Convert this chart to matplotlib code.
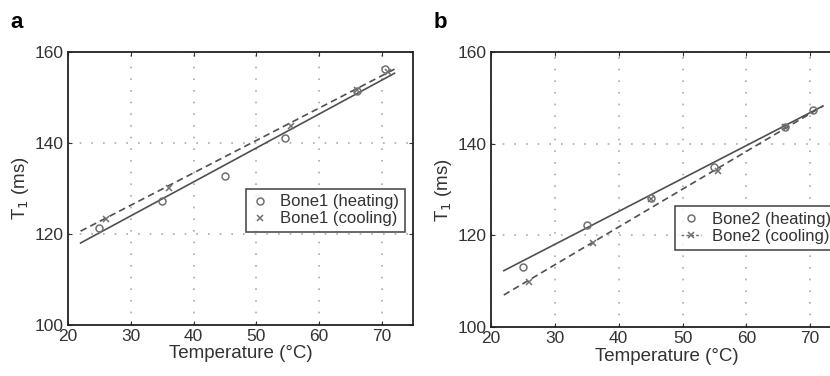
import matplotlib.pyplot as plt
import numpy as np

# =============================================================================
# Data
# =============================================================================

# Panel a: Bone1
A_HEAT_T = [25, 35, 45, 54.5, 66, 70.5]
A_HEAT_T1 = [121.3, 127.3, 132.8, 141.0, 151.4, 156.2]
A_COOL_T = [26, 36, 55.5, 66, 71]
A_COOL_T1 = [123.3, 130.1, 143.7, 151.6, 155.6]
A_HEAT_FIT_T = [22, 72]
A_HEAT_FIT_T1 = [118.0, 155.3]
A_COOL_FIT_T = [22, 72]
A_COOL_FIT_T1 = [120.6, 156.2]

# Panel b: Bone2
B_HEAT_T = [25, 35, 45, 55, 66, 70.5]
B_HEAT_T1 = [113.2, 122.3, 128.1, 135.0, 143.7, 147.3]
B_COOL_T = [26, 36, 45, 55.5, 66]
B_COOL_T1 = [109.9, 118.3, 127.9, 134.1, 143.6]
B_HEAT_FIT_T = [22, 72]
B_HEAT_FIT_T1 = [112.3, 148.2]
B_COOL_FIT_T = [22, 72]
B_COOL_FIT_T1 = [107.0, 148.2]

X_TICKS = [20, 30, 40, 50, 60, 70]
Y_TICKS = [100, 120, 140, 160]

LINE_COLOR = "#505050"
MARK_COLOR = "#707070"


def draw_panel(ax, heat, cool, heat_fit, cool_fit, name, cool_line_in_legend):
    ax.plot(heat_fit[0], heat_fit[1], color=LINE_COLOR, linewidth=1.2)
    ax.plot(cool_fit[0], cool_fit[1], color=LINE_COLOR, linewidth=1.2,
            linestyle=(0, (4, 2.5)))
    h1, = ax.plot(heat[0], heat[1], linestyle="none", marker="o",
                  markersize=5, markerfacecolor="none",
                  markeredgecolor=MARK_COLOR, markeredgewidth=1.1,
                  label=f"{name} (heating)")
    ax.plot(cool[0], cool[1], linestyle="none", marker="x",
            markersize=5, color=MARK_COLOR, markeredgewidth=1.1)
    if cool_line_in_legend:
        h2, = ax.plot([], [], linestyle=(0, (2, 1.5)), marker="x",
                      markersize=5, color=MARK_COLOR, linewidth=1.0,
                      markeredgewidth=1.1, label=f"{name} (cooling)")
    else:
        h2, = ax.plot([], [], linestyle="none", marker="x", markersize=5,
                      color=MARK_COLOR, markeredgewidth=1.1,
                      label=f"{name} (cooling)")
    return h1, h2


def style_axes(ax):
    ax.set_xlim(20, 75)
    ax.set_ylim(100, 160)
    ax.set_xticks(X_TICKS)
    ax.set_yticks(Y_TICKS)
    ax.tick_params(direction="in", length=3, labelsize=12.5, colors="#333333",
                   top=True, right=True, pad=3)
    ax.grid(True, color="#aaaaaa", linestyle=(0, (1, 6)), linewidth=1.2)
    for sp in ax.spines.values():
        sp.set_linewidth(1.3)
        sp.set_color("#222222")
    ax.set_xlabel("Temperature (°C)", fontsize=13.5, color="#333333", labelpad=1)
    ax.set_ylabel("T$_1$ (ms)", fontsize=13.5, color="#333333", labelpad=3)


def main():
    plt.rcParams.update({
        "font.family": "sans-serif",
        "font.sans-serif": ["Liberation Sans", "DejaVu Sans"],
    })

    fig = plt.figure(figsize=(8.3, 3.76), dpi=100)
    ax_a = fig.add_axes([0.082, 0.136, 0.416, 0.726])
    ax_b = fig.add_axes([0.5916, 0.130, 0.423, 0.732])

    ha, ca = draw_panel(ax_a, (A_HEAT_T, A_HEAT_T1), (A_COOL_T, A_COOL_T1),
                        (A_HEAT_FIT_T, A_HEAT_FIT_T1),
                        (A_COOL_FIT_T, A_COOL_FIT_T1), "Bone1", False)
    hb, cb = draw_panel(ax_b, (B_HEAT_T, B_HEAT_T1), (B_COOL_T, B_COOL_T1),
                        (B_HEAT_FIT_T, B_HEAT_FIT_T1),
                        (B_COOL_FIT_T, B_COOL_FIT_T1), "Bone2", True)

    for ax in (ax_a, ax_b):
        style_axes(ax)

    leg_a = ax_a.legend(handles=[ha, ca], loc="upper left",
                        bbox_to_anchor=(0.49, 0.53), fontsize=12,
                        frameon=True, fancybox=False, handlelength=1.0,
                        handletextpad=0.7, borderpad=0.35, labelspacing=0.12)
    leg_b = ax_b.legend(handles=[hb, cb], loc="upper left",
                        bbox_to_anchor=(0.50, 0.47), fontsize=12,
                        frameon=True, fancybox=False, handlelength=1.2,
                        handletextpad=0.7, borderpad=0.35, labelspacing=0.12)
    for leg in (leg_a, leg_b):
        leg.get_frame().set_edgecolor("#222222")
        leg.get_frame().set_linewidth(1.2)
        for t in leg.get_texts():
            t.set_color("#333333")

    fig.text(0.012, 0.925, "a", fontsize=16, fontweight="bold")
    fig.text(0.522, 0.925, "b", fontsize=16, fontweight="bold")

    fig.savefig("out.png", dpi=100)
    plt.close(fig)


if __name__ == "__main__":
    main()
